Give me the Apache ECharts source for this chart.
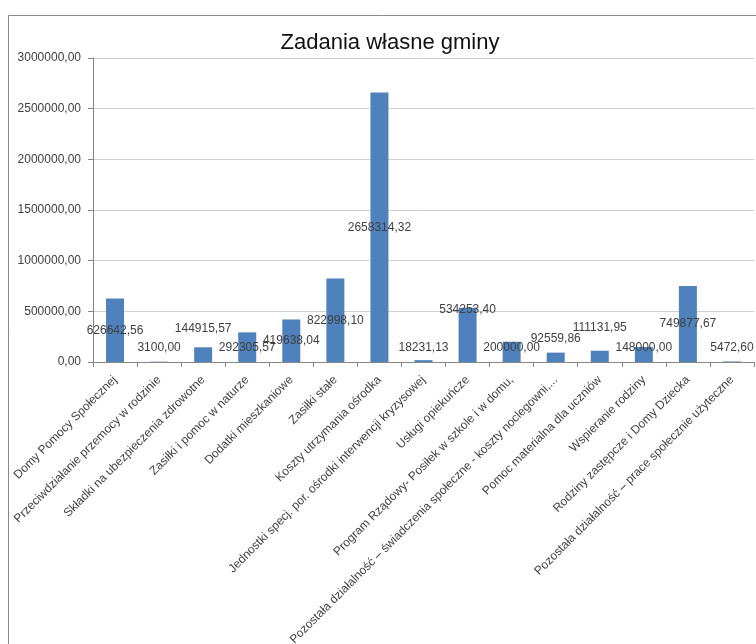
<!DOCTYPE html>
<html>
<head>
<meta charset="utf-8">
<script src="https://cdn.jsdelivr.net/npm/echarts@6/dist/echarts.min.js"></script>
<style>
  html, body { margin: 0; padding: 0; background: #fff; }
  #myChart { width: 756px; height: 644px; }
</style>
</head>
<body>
<div id="myChart"></div>
<script>
// kategorie
var categories = [
    "Domy Pomocy Społecznej",
    "Przeciwdziałanie przemocy w rodzinie",
    "Składki na ubezpieczenia zdrowotne",
    "Zasiłki i pomoc w naturze",
    "Dodatki mieszkaniowe",
    "Zasiłki stałe",
    "Koszty utrzymania ośrodka",
    "Jednostki specj. por. ośrodki interwencji kryzysowej",
    "Usługi opiekuńcze",
    "Program Rządowy- Posiłek w szkole i w domu,",
    "Pozostała działalność – świadczenia społeczne - koszty noclegowni,...",
    "Pomoc materialna dla uczniów",
    "Wspieranie rodziny",
    "Rodziny zastępcze i Domy Dziecka",
    "Pozostała działalność – prace społecznie użyteczne"
];
// wartości
var values = [
    626642.56, 3100.00, 144915.57, 292305.57, 419638.04, 822998.10,
    2658314.32, 18231.13, 534253.40, 200000.00, 92559.86, 111131.95,
    148000.00, 749877.67, 5472.60
];
// osie
var yTicks = [0, 500000, 1000000, 1500000, 2000000, 2500000, 3000000];
// przesunięcia etykiet (jak w Excelu, żeby się nie nakładały)
var labelShift = [0, 0, -19, 0, 0, 0, 0, 0, -25, 0, -9, -20, 0, 0, 0];

function fmt(v) {
    return Number(v).toFixed(2).replace(".", ",");
}

var myChart = echarts.init(document.getElementById("myChart"));
var font = "Liberation Sans, Arial, sans-serif";

myChart.setOption({
    animation: false,
    textStyle: { fontFamily: font },
    title: {
        text: "Zadania własne gminy",
        left: 390,
        textAlign: "center",
        top: 32,
        padding: 0,
        textStyle: { fontSize: 22, fontWeight: "normal", color: "#111", fontFamily: font }
    },
    graphic: [
        {
            type: "rect",
            silent: true,
            shape: { x: 8.5, y: 15.5, width: 800, height: 700 },
            style: { fill: "none", stroke: "#878787", lineWidth: 1 }
        }
    ],
    grid: {
        left: 93,
        right: 2,
        top: 58,
        bottom: 282,
        containLabel: false,
        outerBoundsMode: "none"
    },
    xAxis: {
        type: "category",
        data: categories,
        axisLine: { lineStyle: { color: "#868686" } },
        axisTick: { show: true, length: 5, lineStyle: { color: "#868686" } },
        axisLabel: {
            interval: 0,
            rotate: 45,
            margin: 16,
            fontSize: 12,
            color: "#404040",
            fontFamily: font
        }
    },
    yAxis: {
        type: "value",
        min: yTicks[0],
        max: yTicks[yTicks.length - 1],
        interval: yTicks[1] - yTicks[0],
        axisLine: { show: true, lineStyle: { color: "#868686" } },
        axisTick: { show: true, length: 5, lineStyle: { color: "#868686" } },
        splitLine: { lineStyle: { color: "#d0d0d0" } },
        axisLabel: {
            formatter: fmt,
            margin: 12,
            fontSize: 12,
            color: "#404040",
            fontFamily: font
        }
    },
    series: [
        {
            type: "bar",
            data: values,
            barWidth: 18,
            itemStyle: { color: "#4f81bd" },
            label: {
                show: true,
                position: "inside",
                formatter: function (p) { return fmt(p.value); },
                fontSize: 12,
                color: "#404040",
                fontFamily: font
            },
            labelLayout: function (p) {
                var r = p.rect;
                var base = r.y + r.height;
                var cy = Math.min(r.y + r.height / 2, base - 14);
                cy += labelShift[p.dataIndex] || 0;
                return {
                    x: r.x + r.width / 2,
                    y: cy,
                    align: "center",
                    verticalAlign: "middle"
                };
            }
        }
    ]
});
</script>
</body>
</html>
